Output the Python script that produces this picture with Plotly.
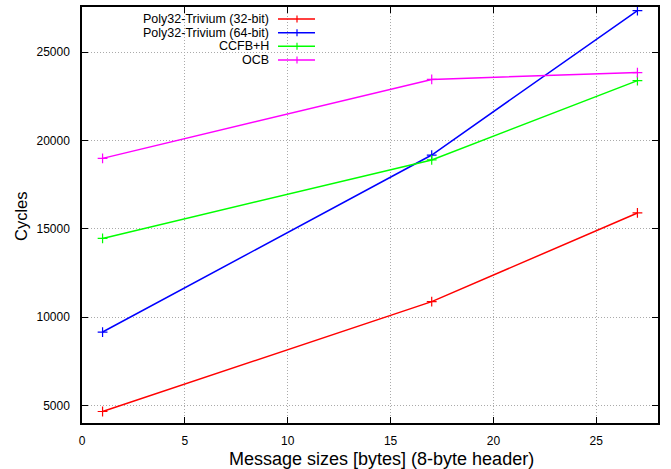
import plotly.graph_objects as go

sizes = [1, 17, 27]
poly32_32 = [4650, 10870, 15890]
poly32_64 = [9150, 19170, 27350]
ccfb_h = [14450, 18890, 23380]
ocb = [18980, 23450, 23840]

series_names = ["Poly32-Trivium (32-bit)", "Poly32-Trivium (64-bit)", "CCFB+H", "OCB"]
series_vals = [poly32_32, poly32_64, ccfb_h, ocb]
colors = ["#ff0000", "#0000ff", "#00ff00", "#ff00ff"]

x_ticks = [0, 5, 10, 15, 20, 25]
y_ticks = [5000, 10000, 15000, 20000, 25000]

x_title = "Message sizes [bytes] (8-byte header)"
y_title = "Cycles"

FONT = "Liberation Sans, Arial, Helvetica, sans-serif"

fig = go.Figure()
for name, vals, c in zip(series_names, series_vals, colors):
    fig.add_trace(go.Scatter(
        x=sizes, y=vals, name=name, mode="lines+markers",
        line=dict(color=c, width=1.5),
        marker=dict(symbol="cross-thin", size=7, color=c, line=dict(width=1.2, color=c)),
        showlegend=False,
    ))

plot_top, plot_h = 7, 416
plot_left, plot_w = 82, 576
def px_x(p):
    return (p - plot_left) / plot_w
def px_y(p):
    return 1 - (p - plot_top) / plot_h

# gnuplot-like legend: opaque white box, right-aligned text, sample on right
shapes = [dict(type="rect", xref="paper", yref="paper", x0=0.0, x1=px_x(323),
               y0=px_y(66), y1=1.0, fillcolor="white", line=dict(width=0), layer="between")]
annotations = []
row_y = [19, 32.7, 46.3, 60]  # pixel rows
for name, c, ry in zip(series_names, colors, row_y):
    annotations.append(dict(text=name, xref="paper", yref="paper", x=px_x(271), y=px_y(ry),
                            xanchor="right", yanchor="middle", showarrow=False,
                            font=dict(family=FONT, size=12.5, color="black")))
    shapes.append(dict(type="line", xref="paper", yref="paper", x0=px_x(278), x1=px_x(315),
                       y0=px_y(ry), y1=px_y(ry), line=dict(color=c, width=1.5), layer="above"))
    shapes.append(dict(type="line", xref="paper", yref="paper", x0=px_x(297), x1=px_x(297),
                       y0=px_y(ry - 3.5), y1=px_y(ry + 3.5), line=dict(color=c, width=1.2), layer="above"))

# axis titles
annotations.append(dict(text=x_title, xref="paper", yref="paper", x=px_x(381), y=px_y(459),
                        xanchor="center", yanchor="middle", showarrow=False,
                        font=dict(family=FONT, size=18, color="black")))
annotations.append(dict(text=y_title, xref="paper", yref="paper", x=px_x(21), y=px_y(216),
                        xanchor="center", yanchor="middle", showarrow=False, textangle=-90,
                        font=dict(family=FONT, size=16.5, color="black")))

axis_common = dict(
    showline=True, linecolor="black", linewidth=1.5, mirror="ticks",
    ticks="inside", ticklen=6, tickcolor="black", tickwidth=1,
    showgrid=True, gridcolor="#aaaaaa", gridwidth=1, griddash="1px,2px",
    zeroline=False, tickfont=dict(family=FONT, size=12, color="black"),
    automargin=False,
)

fig.update_layout(
    width=671, height=469,
    margin=dict(l=82, r=13, t=7, b=46),
    paper_bgcolor="white", plot_bgcolor="white",
    xaxis=dict(range=[0, 28], tickvals=x_ticks, ticklabelstandoff=6, **axis_common),
    yaxis=dict(range=[4000, 27550], tickvals=y_ticks, tickformat="d", ticklabelstandoff=8,
               **axis_common),
    shapes=shapes, annotations=annotations,
)

fig.write_html("out.html", config={"displayModeBar": False},
               post_script="document.body.style.margin='0';")
